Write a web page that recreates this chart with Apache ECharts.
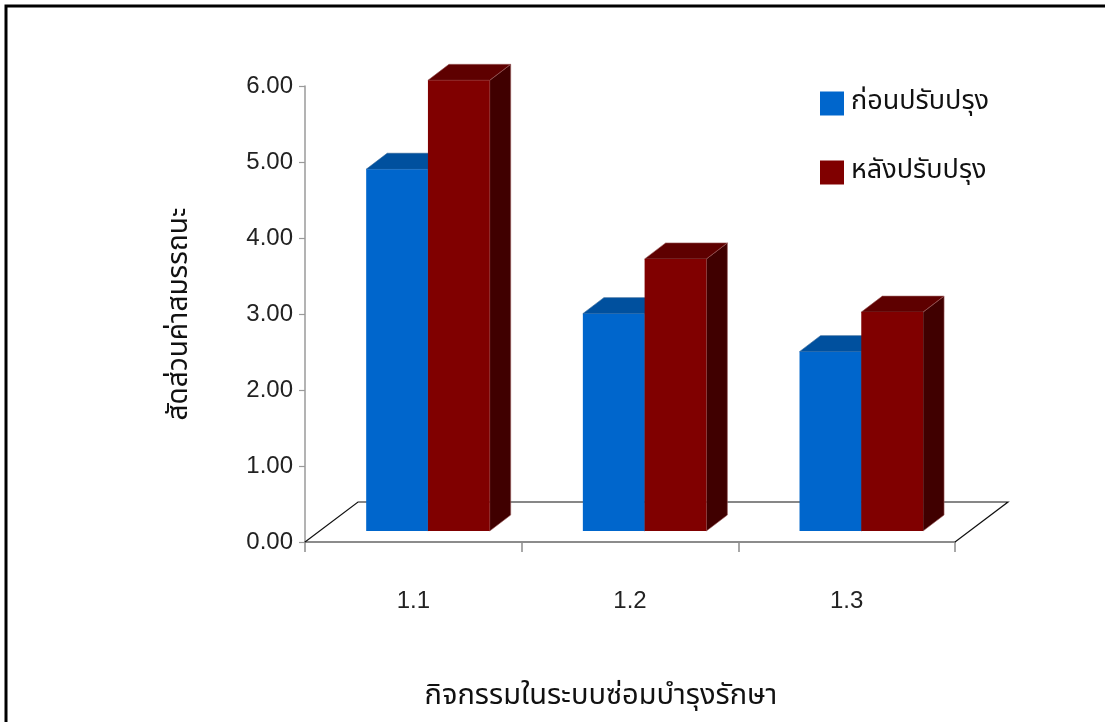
<!DOCTYPE html>
<html>
<head>
<meta charset="utf-8">
<style>
  html, body { margin: 0; padding: 0; background: #fff; }
  #chart { width: 1105px; height: 722px; }
</style>
<script src="https://cdn.jsdelivr.net/npm/echarts@6/dist/echarts.min.js"></script>
</head>
<body>
<div id="chart"></div>
<script>
// Performance ratio per maintenance activity, before and after improvement
const categories = ['1.1', '1.2', '1.3'];
const beforeValues = [4.76, 2.86, 2.36];
const afterValues = [5.93, 3.58, 2.88];
const seriesNames = ['ก่อนปรับปรุง', 'หลังปรับปรุง'];
const yAxisTitle = 'สัดส่วนค่าสมรรถนะ';
const xAxisTitle = 'กิจกรรมในระบบซ่อมบำรุงรักษา';
const yMin = 0, yMax = 6, yStep = 1;

const latinFont = "'Liberation Sans', Arial, sans-serif";
const thaiFont = "'Noto Sans Thai', 'Loma', 'Tahoma', 'Noto Sans', 'DejaVu Sans', sans-serif";

// oblique projection used for the floor and the bar blocks
const FLOOR_DX = 0.2446;   // fraction of a category band
const FLOOR_DY = 40;       // px
const BAR_OFF_X = 0.0674;  // front face of the bars, inset from the floor front edge
const BAR_OFF_Y = 11;
const BAR_W = 0.285;
const BAR_DX = 0.097;
const BAR_DY = 16;

const faces = [
  { front: '#0066CC', top: '#00509E', side: '#003C78', edge: '#2a5f95' },
  { front: '#800000', top: '#5E0000', side: '#400000', edge: '#9a5a5a' }
];

function floorRenderer(params, api) {
  const band = api.size([1, 0])[0];
  const first = api.coord([0, 0]);
  const last = api.coord([categories.length - 1, 0]);
  const left = first[0] - band / 2;
  const right = last[0] + band / 2;
  const y0 = first[1];
  const dx = band * FLOOR_DX;
  return {
    type: 'polyline',
    shape: { points: [[left, y0], [left + dx, y0 - FLOOR_DY], [right + dx, y0 - FLOOR_DY], [right, y0]] },
    style: { stroke: '#111', lineWidth: 1.2, fill: null }
  };
}

function barRenderer(slot) {
  const c = faces[slot];
  return function (params, api) {
    const cat = api.value(0);
    const val = api.value(1);
    const band = api.size([1, 0])[0];
    const base = api.coord([cat, 0]);
    const top = api.coord([cat, val]);
    const w = band * BAR_W;
    const dx = band * BAR_DX;
    const x = base[0] + band * BAR_OFF_X + (slot === 0 ? -w : 0);
    const yb = base[1] - BAR_OFF_Y;
    const yt = top[1] - BAR_OFF_Y;
    return {
      type: 'group',
      children: [
        {
          type: 'polygon',
          shape: { points: [[x + w, yt], [x + w + dx, yt - BAR_DY], [x + w + dx, yb - BAR_DY], [x + w, yb]] },
          style: { fill: c.side, stroke: c.edge, lineWidth: 0.6 }
        },
        {
          type: 'polygon',
          shape: { points: [[x, yt], [x + dx, yt - BAR_DY], [x + w + dx, yt - BAR_DY], [x + w, yt]] },
          style: { fill: c.top, stroke: c.edge, lineWidth: 0.6 }
        },
        {
          type: 'rect',
          shape: { x: x, y: yt, width: w, height: yb - yt },
          style: { fill: c.front }
        }
      ]
    };
  };
}

const chart = echarts.init(document.getElementById('chart'), null, { renderer: 'canvas' });

chart.setOption({
  backgroundColor: '#fff',
  animation: false,
  graphic: [{
    type: 'rect',
    shape: { x: 6, y: 6, width: 1200, height: 800 },
    style: { fill: null, stroke: '#000', lineWidth: 3 },
    silent: true
  }],
  legend: {
    data: seriesNames,
    orient: 'vertical',
    left: 820,
    top: 90,
    padding: 0,
    icon: 'rect',
    itemWidth: 24,
    itemHeight: 24,
    itemGap: 42,
    textStyle: { fontFamily: thaiFont, fontSize: 27, color: '#111', padding: [0, 0, 0, 2] }
  },
  grid: { left: 305, right: 150, top: 86, bottom: 180, containLabel: false },
  xAxis: {
    type: 'category',
    data: categories,
    name: xAxisTitle,
    nameLocation: 'middle',
    nameGap: 142,
    nameTextStyle: { fontFamily: thaiFont, fontSize: 29, color: '#111', padding: [0, 58, 0, 0] },
    axisLine: { lineStyle: { color: '#8c8c8c', width: 2 } },
    axisTick: { show: true, length: 10, alignWithLabel: false, lineStyle: { color: '#8c8c8c', width: 1.5 } },
    axisLabel: { margin: 47, fontFamily: latinFont, fontSize: 24, color: '#222' },
    splitLine: { show: false }
  },
  yAxis: {
    type: 'value',
    min: yMin,
    max: yMax,
    interval: yStep,
    name: yAxisTitle,
    nameLocation: 'middle',
    nameGap: 110,
    nameRotate: 90,
    nameTextStyle: { fontFamily: thaiFont, fontSize: 28, color: '#111' },
    axisLine: { show: true, lineStyle: { color: '#9a9a9a', width: 1.5 } },
    axisTick: { show: true, length: 6, lineStyle: { color: '#9a9a9a', width: 1.2 } },
    axisLabel: {
      margin: 12,
      fontFamily: latinFont,
      fontSize: 24,
      color: '#222',
      formatter: function (v) { return v.toFixed(2); }
    },
    splitLine: { show: false }
  },
  series: [
    {
      type: 'custom',
      name: 'floor',
      z: 1,
      silent: true,
      renderItem: floorRenderer,
      data: [[0, 0]],
      encode: { x: 0, y: 1 }
    },
    {
      type: 'custom',
      name: seriesNames[0],
      z: 2,
      itemStyle: { color: faces[0].front },
      renderItem: barRenderer(0),
      data: beforeValues.map(function (v, i) { return [i, v]; }),
      encode: { x: 0, y: 1 }
    },
    {
      type: 'custom',
      name: seriesNames[1],
      z: 3,
      itemStyle: { color: faces[1].front },
      renderItem: barRenderer(1),
      data: afterValues.map(function (v, i) { return [i, v]; }),
      encode: { x: 0, y: 1 }
    }
  ]
});
</script>
</body>
</html>
